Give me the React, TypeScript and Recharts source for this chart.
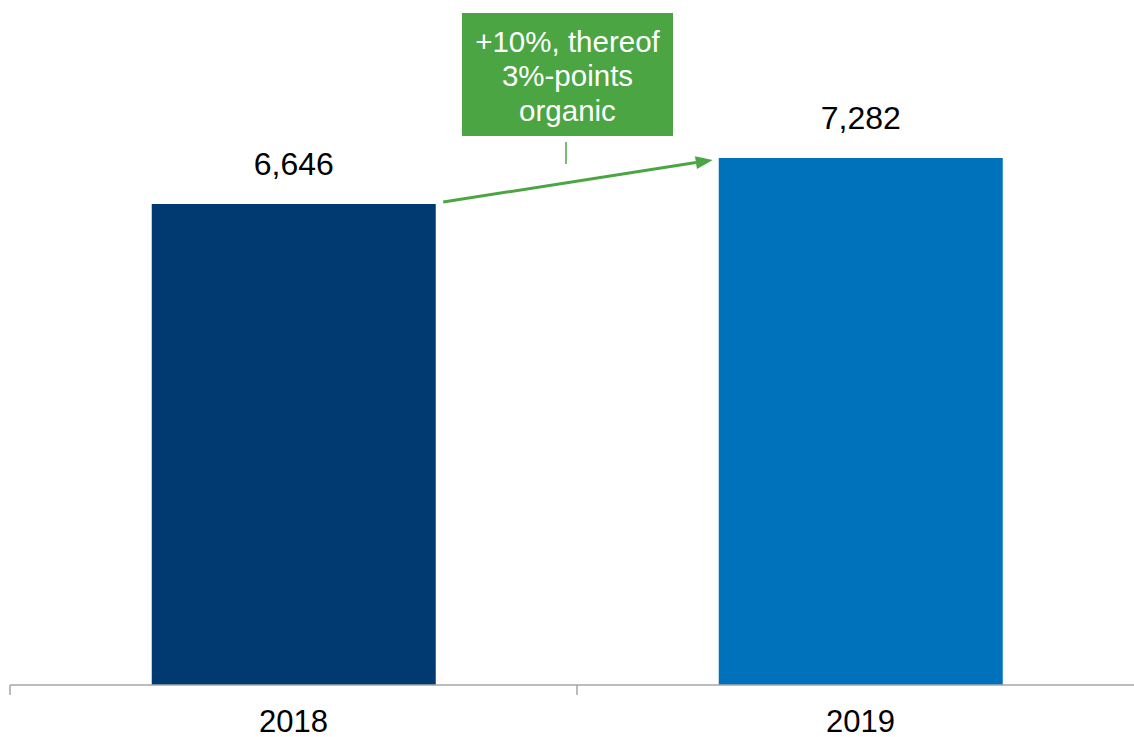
import React from 'react';
import { BarChart, Bar, XAxis, YAxis, Cell, LabelList } from 'recharts';

const years = ['2018', '2019'];
const values = [6646, 7282];
const barColors = ['#003A70', '#0072BC'];
const annotationLines = ['+10%, thereof', '3%-points', 'organic'];

const data = years.map((year, i) => ({ year, value: values[i] }));

const FONT = '"Liberation Sans", Arial, Helvetica, sans-serif';
const CHART_W = 1144;
const CHART_H = 737;
const PLOT_LEFT = 10;
const PLOT_TOP = 106;
const AXIS_H = 52;
const PLOT_BOTTOM = CHART_H - AXIS_H;
const Y_MAX = 8000;
const GREEN = '#4BA543';
const AXIS_GRAY = '#A6A6A6';

const fmt = (v: number) => String(v).replace(/\B(?=(\d{3})+(?!\d))/g, ',');

const bandW = (CHART_W - PLOT_LEFT) / years.length;
const yPix = (v: number) => PLOT_BOTTOM - (v / Y_MAX) * (PLOT_BOTTOM - PLOT_TOP);

const XTick = (props: any) => {
  const { x, y, payload } = props;
  const half = payload && typeof payload.offset === 'number' && payload.offset > 0 ? payload.offset : bandW / 2;
  return (
    <g>
      <line x1={x - half} x2={x - half} y1={y} y2={y + 10} stroke={AXIS_GRAY} strokeWidth={1.5} />
      <text x={x} y={y + 46.5} textAnchor="middle" fontSize={31} fontFamily={FONT} fill="#000">
        {payload.value}
      </text>
    </g>
  );
};

const Annotation = () => {
  const x1 = PLOT_LEFT + bandW * 0.75 + 8;
  const y1 = yPix(values[0]) - 2;
  const x2 = PLOT_LEFT + bandW * 1.25 - 6;
  const y2 = yPix(values[1]) + 2;
  const ang = Math.atan2(y2 - y1, x2 - x1);
  const headLen = 17;
  const headHalf = 6.5;
  const bx = x2 - headLen * Math.cos(ang);
  const by = y2 - headLen * Math.sin(ang);
  const px = -Math.sin(ang) * headHalf;
  const py = Math.cos(ang) * headHalf;
  const boxX = 462;
  const boxY = 13;
  const boxW = 211;
  const boxH = 123;
  const cx = boxX + boxW / 2;
  return (
    <svg width={1134} height={737} style={{ position: 'absolute', left: 0, top: 0, pointerEvents: 'none' }}>
      <line x1={x1} y1={y1} x2={bx} y2={by} stroke={GREEN} strokeWidth={3} />
      <polygon points={`${x2},${y2} ${bx + px},${by + py} ${bx - px},${by - py}`} fill={GREEN} />
      <line x1={566} x2={566} y1={142} y2={164} stroke={GREEN} strokeWidth={1.5} />
      <rect x={boxX} y={boxY} width={boxW} height={boxH} fill={GREEN} />
      {annotationLines.map((t, i) => (
        <text key={t} x={cx} y={51.5 + i * 34.5} textAnchor="middle" fontSize={29.5} fontFamily={FONT} fill="#fff">
          {t}
        </text>
      ))}
    </svg>
  );
};

export default function App() {
  return (
    <div style={{ position: 'absolute', left: 0, top: 0, width: 1134, height: 737, overflow: 'hidden', background: '#fff' }}>
      <BarChart
        width={CHART_W}
        height={CHART_H}
        data={data}
        margin={{ top: PLOT_TOP, right: 0, left: PLOT_LEFT, bottom: 0 }}
        barCategoryGap="25%"
      >
        <XAxis
          dataKey="year"
          height={AXIS_H}
          tickLine={false}
          tickSize={0}
          tickMargin={0}
          axisLine={{ stroke: AXIS_GRAY, strokeWidth: 1.5 }}
          tick={<XTick />}
          interval={0}
        />
        <YAxis hide domain={[0, Y_MAX]} width={0} />
        <Bar dataKey="value" isAnimationActive={false}>
          {data.map((d, i) => (
            <Cell key={d.year} fill={barColors[i]} />
          ))}
          <LabelList
            dataKey="value"
            position="top"
            offset={29}
            formatter={(v: any) => fmt(Number(v))}
            fill="#000"
            fontSize={32}
            fontFamily={FONT}
          />
        </Bar>
      </BarChart>
      <Annotation />
    </div>
  );
}
